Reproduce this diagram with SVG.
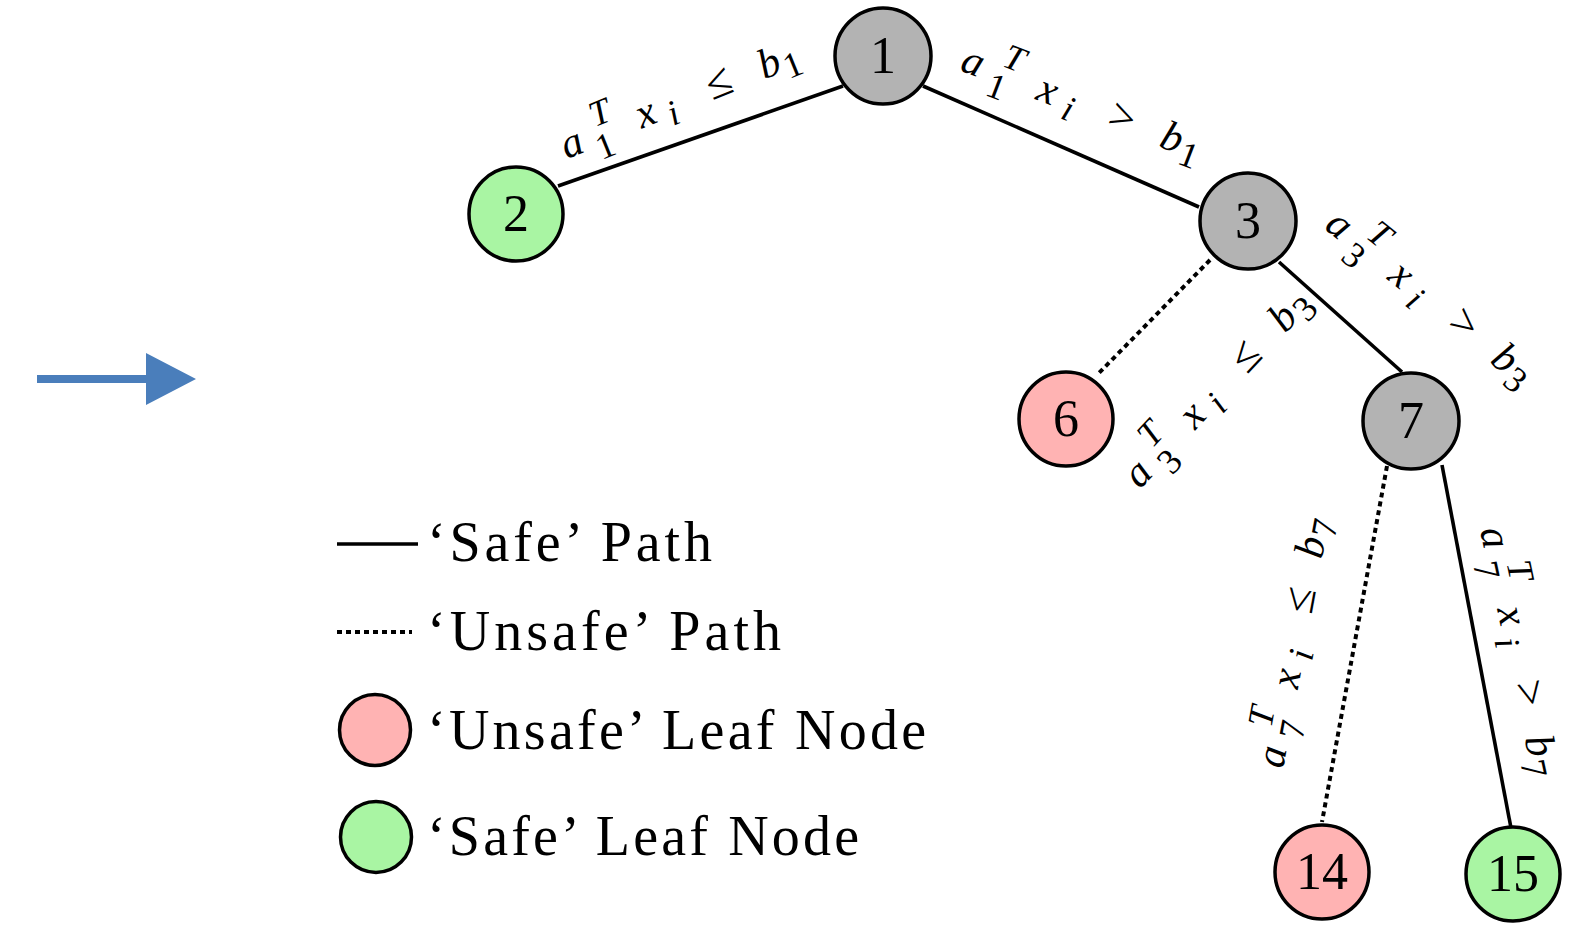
<svg xmlns="http://www.w3.org/2000/svg" width="1577" height="929" viewBox="0 0 1577 929">
<style>
.nd{stroke:#000;stroke-width:3.5}
.inner{fill:#b3b3b3}
.unsafe{fill:#ffb3b3}
.safe{fill:#a9f5a3}
.nl{font-family:"Liberation Serif",serif;font-size:52px;text-anchor:middle;fill:#000}
.el{font-family:"Liberation Serif",serif;font-size:42px;fill:#000}
.it{font-style:italic}
.sc{font-size:36px}
.rel{font-size:46px}
.lg{font-family:"Liberation Serif",serif;font-size:56px;fill:#000}
.solid{stroke:#000;stroke-width:3.6;fill:none}
.dash{stroke:#000;stroke-width:4;fill:none;stroke-dasharray:5 4}
</style>
<rect width="1577" height="929" fill="#fff"/>
<g id="arrow">
<path d="M37,375 H146 V353 L196,379 L146,405 V383 H37 Z" fill="#4a7ebb"/>
</g>
<g id="connectors">
<line class="solid" x1="558" y1="186" x2="843" y2="86"/>
<line class="solid" x1="923" y1="86" x2="1199" y2="207"/>
<line class="dash" x1="1210" y1="260" x2="1098" y2="374"/>
<line class="solid" x1="1279" y1="262" x2="1402" y2="372"/>
<line class="dash" x1="1387" y1="466" x2="1322" y2="822"/>
<line class="solid" x1="1442" y1="465" x2="1511" y2="828"/>
<text class="el" transform="translate(566.7,159.2) rotate(-22)"><tspan class="it" x="0" y="0">a</tspan><tspan class="sc" x="32" y="14">1</tspan><tspan class="sc it" x="38" y="-19">T</tspan><tspan class="it" x="81" y="0">x</tspan><tspan class="sc it" x="111" y="9">i</tspan><tspan class="rel" x="157" y="0">≤</tspan><tspan class="it" x="213" y="0">b</tspan><tspan class="sc" x="236" y="9">1</tspan></text>
<text class="el" transform="translate(958.8,69.9) rotate(21)"><tspan class="it" x="0" y="0">a</tspan><tspan class="sc" x="32" y="14">1</tspan><tspan class="sc it" x="38" y="-19">T</tspan><tspan class="it" x="81" y="0">x</tspan><tspan class="sc it" x="111" y="9">i</tspan><tspan class="rel" x="157" y="0">&gt;</tspan><tspan class="it" x="213" y="0">b</tspan><tspan class="sc" x="236" y="9">1</tspan></text>
<text class="el" transform="translate(1140,489.8) rotate(-47)"><tspan class="it" x="0" y="0">a</tspan><tspan class="sc" x="32" y="14">3</tspan><tspan class="sc it" x="38" y="-19">T</tspan><tspan class="it" x="81" y="0">x</tspan><tspan class="sc it" x="111" y="9">i</tspan><tspan class="rel" x="157" y="0">≤</tspan><tspan class="it" x="213" y="0">b</tspan><tspan class="sc" x="236" y="9">3</tspan></text>
<text class="el" transform="translate(1323.2,227.9) rotate(39)"><tspan class="it" x="0" y="0">a</tspan><tspan class="sc" x="32" y="14">3</tspan><tspan class="sc it" x="38" y="-19">T</tspan><tspan class="it" x="81" y="0">x</tspan><tspan class="sc it" x="111" y="9">i</tspan><tspan class="rel" x="157" y="0">&gt;</tspan><tspan class="it" x="213" y="0">b</tspan><tspan class="sc" x="236" y="9">3</tspan></text>
<text class="el" transform="translate(1283,769.3) rotate(-79.5)"><tspan class="it" x="0" y="0">a</tspan><tspan class="sc" x="32" y="14">7</tspan><tspan class="sc it" x="38" y="-19">T</tspan><tspan class="it" x="81" y="0">x</tspan><tspan class="sc it" x="111" y="9">i</tspan><tspan class="rel" x="157" y="0">≤</tspan><tspan class="it" x="213" y="0">b</tspan><tspan class="sc" x="236" y="9">7</tspan></text>
<text class="el" transform="translate(1480.1,529.9) rotate(78)"><tspan class="it" x="0" y="0">a</tspan><tspan class="sc" x="32" y="14">7</tspan><tspan class="sc it" x="38" y="-19">T</tspan><tspan class="it" x="81" y="0">x</tspan><tspan class="sc it" x="111" y="9">i</tspan><tspan class="rel" x="157" y="0">&gt;</tspan><tspan class="it" x="213" y="0">b</tspan><tspan class="sc" x="236" y="9">7</tspan></text>
</g>
<g id="node1"><circle class="nd inner" cx="883" cy="56" r="48"/><text class="nl" x="883" y="73">1</text></g>
<g id="node2"><circle class="nd safe" cx="516" cy="214" r="47"/><text class="nl" x="516" y="231">2</text></g>
<g id="node3"><circle class="nd inner" cx="1248" cy="221" r="48"/><text class="nl" x="1248" y="238">3</text></g>
<g id="node6"><circle class="nd unsafe" cx="1066" cy="419" r="47"/><text class="nl" x="1066" y="436">6</text></g>
<g id="node7"><circle class="nd inner" cx="1411" cy="421" r="48"/><text class="nl" x="1411" y="438">7</text></g>
<g id="node14"><circle class="nd unsafe" cx="1322" cy="872" r="47"/><text class="nl" x="1322" y="889">14</text></g>
<g id="node15"><circle class="nd safe" cx="1513" cy="874" r="47"/><text class="nl" x="1513" y="891">15</text></g>
<g id="legend">
<line class="solid" x1="337" y1="544" x2="418" y2="544"/>
<text class="lg" x="427" y="561" textLength="285">‘Safe’ Path</text>
<line class="dash" x1="337" y1="632" x2="412" y2="632" stroke-width="3.5" stroke-dasharray="4.5 3"/>
<text class="lg" x="427" y="650" textLength="354">‘Unsafe’ Path</text>
<circle class="nd unsafe" cx="375" cy="730" r="35.5"/>
<text class="lg" x="427" y="749" textLength="499">‘Unsafe’ Leaf Node</text>
<circle class="nd safe" cx="376" cy="837" r="35.5"/>
<text class="lg" x="427" y="855" textLength="432">‘Safe’ Leaf Node</text>
</g>
</svg>
